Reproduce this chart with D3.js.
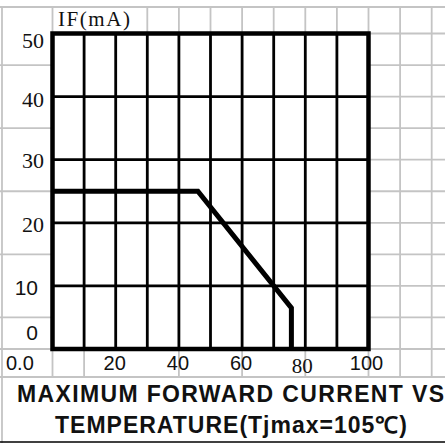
<!DOCTYPE html>
<html>
<head>
<meta charset="utf-8">
<script src="https://cdn.jsdelivr.net/npm/d3@7/dist/d3.min.js"></script>
<style>
html,body{margin:0;padding:0;background:#fff;}
svg{display:block;}
</style>
</head>
<body>
<script>
// ---- data ----
const tempC = [0, 46, 75.6, 75.6];          // Ambient temperature (°C)
const currentMA = [25, 25, 6.5, 0];         // Max forward current IF (mA)
const xGrid = [10, 20, 30, 40, 50, 60, 70, 80, 90];
const yGrid = [10, 20, 30, 40];
const yTickLabels = [
  {v: 50, t: "50", serif: true},
  {v: 40, t: "40", serif: true},
  {v: 30, t: "30", serif: true},
  {v: 20, t: "20", serif: true},
  {v: 10, t: "10", serif: false},
  {v: 0,  t: "0",  serif: false}
];
const xTickLabels = [
  {v: 20, t: "20", serif: false},
  {v: 40, t: "40", serif: false},
  {v: 60, t: "60", serif: false},
  {v: 80, t: "80", serif: true},
  {v: 100, t: "100", serif: false}
];
const originLabel = "0.0";
const yAxisTitle = "IF(mA)";
const titleLines = ["MAXIMUM FORWARD CURRENT VS", "TEMPERATURE(Tjmax=105\u2103)"];

// ---- setup ----
const W = 445, H = 443;
const svg = d3.select("body").append("svg").attr("width", W).attr("height", H);
const x = d3.scaleLinear().domain([0, 100]).range([52.5, 368.5]);
const y = d3.scaleLinear().domain([0, 50]).range([349, 33.5]);
const SERIF = "'Liberation Serif','Times New Roman',serif";
const SANS = "'Liberation Sans',Arial,sans-serif";
const GRAY = "#c4c4c4";

// ---- spreadsheet-like background grid ----
const g0 = svg.append("g").attr("stroke", GRAY).attr("stroke-width", 1.8);
const topRow = 7, xRow = 377;
const hSegs = [];
hSegs.push([0, W, topRow]);
hSegs.push([x(0), W, y(50)]);
[45, 35, 25, 15, 5].forEach(v => hSegs.push([0, W, y(v)]));
[40, 30, 20, 10].forEach(v => hSegs.push([x(100), W, y(v)]));
hSegs.push([0, W, y(0)]);
hSegs.push([0, W, xRow]);
hSegs.forEach(s => g0.append("line").attr("x1", s[0]).attr("x2", s[1]).attr("y1", s[2]).attr("y2", s[2]));
const vSegs = [];
vSegs.push([2, topRow, H]);
[0, 40, 60, 80, 100, 110, 120].forEach(v => vSegs.push([x(v), topRow, xRow]));
[10].forEach(v => vSegs.push([x(v), y(50), xRow]));
[20].forEach(v => vSegs.push([x(v), y(50), y(0)]));
[30, 50, 70, 90].forEach(v => vSegs.push([x(v), topRow, y(0)]));
vSegs.forEach(s => g0.append("line").attr("x1", s[0]).attr("x2", s[0]).attr("y1", s[1]).attr("y2", s[2]));
// bottom black rule
svg.append("line").attr("x1", 0).attr("x2", W).attr("y1", 442).attr("y2", 442)
  .attr("stroke", "#000").attr("stroke-width", 1.3);

// ---- plot area ----
svg.append("rect").attr("x", x(0)).attr("y", y(50)).attr("width", x(100) - x(0)).attr("height", y(0) - y(50))
  .attr("fill", "#fff");
const gg = svg.append("g").attr("stroke", "#000").attr("stroke-width", 2.8);
gg.selectAll(".vx").data(xGrid).enter().append("line")
  .attr("x1", d => x(d)).attr("x2", d => x(d)).attr("y1", y(50)).attr("y2", y(0));
gg.selectAll(".hy").data(yGrid).enter().append("line")
  .attr("x1", x(0)).attr("x2", x(100)).attr("y1", d => y(d)).attr("y2", d => y(d));
svg.append("rect").attr("x", x(0)).attr("y", y(50)).attr("width", x(100) - x(0)).attr("height", y(0) - y(50))
  .attr("fill", "none").attr("stroke", "#000").attr("stroke-width", 4.5);

// ---- data line ----
const pts = tempC.map((t, i) => [t, currentMA[i]]);
svg.append("path").datum(pts)
  .attr("d", d3.line().x(d => x(d[0])).y(d => y(d[1])))
  .attr("fill", "none").attr("stroke", "#000").attr("stroke-width", 5)
  .attr("stroke-linejoin", "miter");

// ---- labels ----
const yLabelY = {50: 48, 40: 107, 30: 168, 20: 232, 10: 295, 0: 340};
svg.selectAll(".yl").data(yTickLabels).enter().append("text")
  .attr("x", d => d.serif ? 44 : 38)
  .attr("y", d => yLabelY[d.v])
  .attr("text-anchor", "end")
  .attr("font-family", d => d.serif ? SERIF : SANS)
  .attr("font-size", d => d.serif ? 22 : 21)
  .attr("fill", "#111")
  .text(d => d.t);

svg.selectAll(".xl").data(xTickLabels).enter().append("text")
  .attr("x", d => x(d.v) - (d.v === 100 ? 2 : 1) - (d.v === 80 ? 2 : 0))
  .attr("y", d => d.serif ? 373 : 370)
  .attr("text-anchor", "middle")
  .attr("font-family", d => d.serif ? SERIF : SANS)
  .attr("font-size", d => d.serif ? 21 : 20)
  .attr("fill", "#111")
  .text(d => d.t);

svg.append("text").attr("x", 6).attr("y", 370)
  .attr("font-family", SANS).attr("font-size", 20).attr("fill", "#111").text(originLabel);

svg.append("text").attr("x", 58).attr("y", 26)
  .attr("font-family", SERIF).attr("font-size", 21).attr("fill", "#111")
  .attr("textLength", 72).attr("lengthAdjust", "spacing").text(yAxisTitle);

// ---- title ----
svg.append("text").attr("x", 17).attr("y", 402)
  .attr("font-family", SANS).attr("font-weight", "bold").attr("font-size", 23).attr("fill", "#111")
  .attr("textLength", 427).attr("lengthAdjust", "spacing").text(titleLines[0]);
svg.append("text").attr("x", 55).attr("y", 433)
  .attr("font-family", SANS).attr("font-weight", "bold").attr("font-size", 23).attr("fill", "#111")
  .attr("textLength", 352).attr("lengthAdjust", "spacing").text(titleLines[1]);
</script>
</body>
</html>
